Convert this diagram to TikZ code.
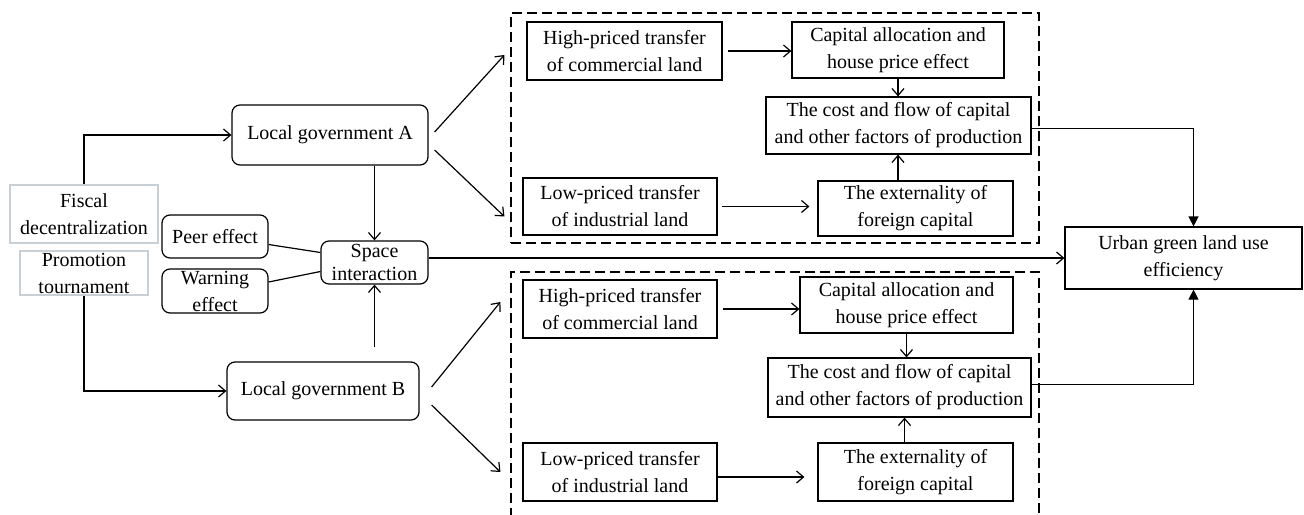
\documentclass[tikz,border=0pt]{standalone}
\usepackage{fontspec}
\setmainfont{Liberation Serif}
\usetikzlibrary{arrows.meta,calc}
\definecolor{softgray}{RGB}{200,208,214}
\begin{document}
\begin{tikzpicture}[x=0.5pt,y=-0.5pt,
  every node/.style={font=\fontsize{10}{13.5}\selectfont, align=center, inner sep=0pt},
  sz/.style 2 args={minimum width=#1pt, minimum height=#2pt},
  box/.style={draw, line width=0.6pt},
  rbox/.style={draw, line width=0.6pt, rounded corners=4pt},
  gbox/.style={draw=softgray, line width=0.9pt},
  dbox/.style={draw, line width=0.6pt, dash pattern=on 5pt off 2.5pt},
  arr/.style={line width=0.6pt, -{Straight Barb[length=3.5pt,width=6pt]}},
  tri/.style={line width=0.6pt, -{Triangle[length=5pt,width=5pt]}},
  ln/.style={line width=0.6pt}]
\clip (0,0) rectangle (1304,514);
\fill[white] (0,0) rectangle (1304,514);
% left column
\node[gbox, sz={74}{29}] (fiscal) at (84,214) {Fiscal\\decentralization};
\node[gbox, sz={64}{22}] (promo) at (84,273) {Promotion\\tournament};
\node[rbox, sz={98}{30}] (gA) at (330,135) {Local government A};
\node[rbox, sz={96}{29}] (gB) at (323,391) {Local government B};
\node[rbox, sz={53}{21.5}] (peer) at (215,236.5) {Peer effect};
\node[rbox, sz={53}{22}] (warn) at (215,291) {Warning\\effect};
\node[rbox, sz={53.5}{21.5}, font=\fontsize{10}{11.5}\selectfont] (space) at (374.5,262.5) {Space\\interaction};
% dashed groups
\node[dbox, sz={264}{115}] (d1) at (775,128) {};
\node[dbox, sz={264}{134}] (d2) at (775,406) {};
% upper group
\node[box, sz={97.5}{29}] (hi1) at (624.5,51) {High-priced transfer\\of commercial land};
\node[box, sz={106}{28}] (cap1) at (898,50) {Capital allocation and\\house price effect};
\node[box, sz={132.5}{28.5}] (cost1) at (898.5,125.5) {The cost and flow of capital\\and other factors of production};
\node[box, sz={97}{28.5}] (low1) at (620,206.5) {Low-priced transfer\\of industrial land};
\node[box, sz={97.5}{27.5}] (ext1) at (915.5,208.5) {The externality of\\foreign capital};
% lower group
\node[box, sz={97}{29}] (hi2) at (620,309) {High-priced transfer\\of commercial land};
\node[box, sz={106.5}{28}] (cap2) at (906.5,305) {Capital allocation and\\house price effect};
\node[box, sz={131.5}{29.5}] (cost2) at (899.5,387.5) {The cost and flow of capital\\and other factors of production};
\node[box, sz={97}{29}] (low2) at (620,472) {Low-priced transfer\\of industrial land};
\node[box, sz={97.5}{29}] (ext2) at (915.5,472) {The externality of\\foreign capital};
% outcome
\node[box, sz={118.5}{31}] (urban) at (1183.5,258) {Urban green land use\\efficiency};
% connectors left
\draw[arr] (fiscal.north) |- (gA.west);
\draw[arr] (promo.south) |- (gB.west);
\draw[arr] (space.north |- gA.south) -- (space.north);
\draw[arr, shorten <=7pt] (space.south |- gB.north) -- (space.south);
\draw[ln] ($(peer.east)+(0,8)$) -- ($(space.west)+(0,-10)$);
\draw[ln] ($(warn.east)+(0,-9)$) -- ($(space.west)+(0,9)$);
\draw[arr] (space.east |- urban.west) -- (urban.west);
% diagonals
\draw[arr] ($(gA.east)+(6,-3)$) -- ($(hi1.west -| d1.west)+(-6,4)$);
\draw[arr] ($(gA.east)+(6,15)$) -- ($(low1.west -| d1.west)+(-6,10)$);
\draw[arr] ($(gB.east)+(12,-4)$) -- ($(hi2.west -| d2.west)+(-10,-7)$);
\draw[arr] ($(gB.east)+(12,14)$) -- ($(low2.west -| d2.west)+(-10,0)$);
% upper group connectors
\draw[arr, shorten <=2.5pt] (hi1.east) -- (hi1.east -| cap1.west);
\draw[arr] (cap1.south) -- (cap1.south |- cost1.north);
\draw[arr, shorten <=2pt, shorten >=4pt] (low1.east) -- (low1.east -| ext1.west);
\draw[arr] (ext1.north -| cap1.south) -- (cost1.south -| cap1.south);
% lower group connectors
\draw[arr, shorten <=2.5pt] (hi2.east) -- (hi2.east -| cap2.west);
\draw[arr] (cap2.south) -- (cap2.south |- cost2.north);
\draw[arr, shorten >=6.5pt] ($(low2.east)+(0,5)$) -- ($(low2.east -| ext2.west)+(0,5)$);
\draw[arr] ($(ext2.north -| cap2.south)+(-2,0)$) -- ($(cost2.south -| cap2.south)+(-2,0)$);
% to outcome
\draw[tri] ($(cost1.east)+(0,3)$) -| ($(urban.north)+(10,0)$);
\draw[tri] ($(cost2.east)+(0,-3)$) -| ($(urban.south)+(10,0)$);
\end{tikzpicture}
\end{document}
